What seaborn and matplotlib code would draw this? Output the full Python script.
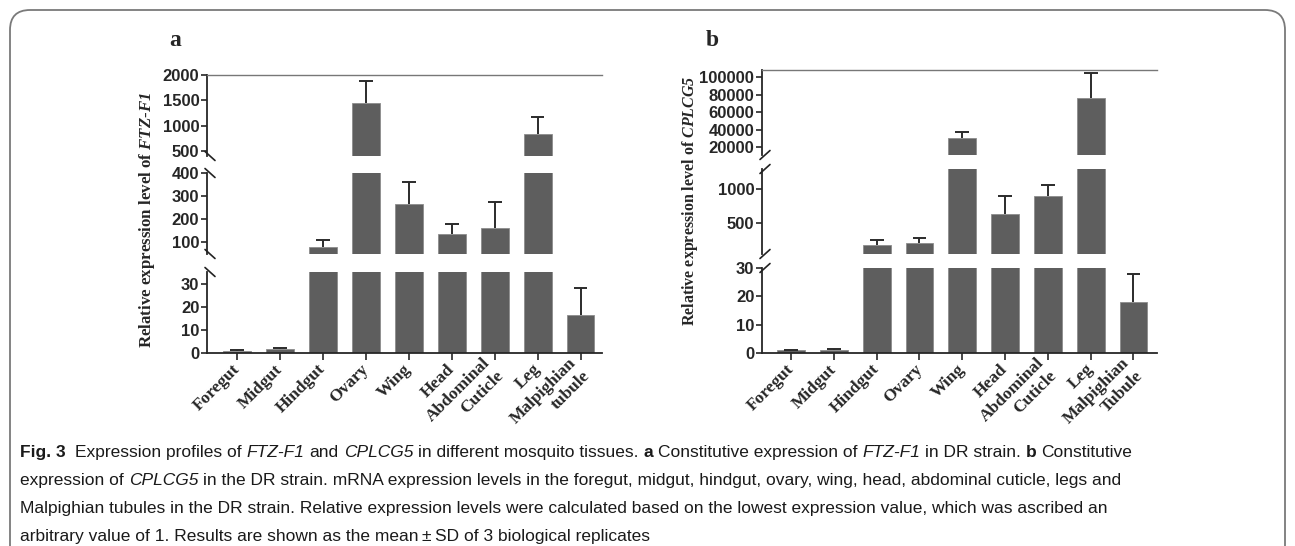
import matplotlib
matplotlib.use("Agg")
import matplotlib.pyplot as plt
import pandas as pd
import seaborn as sns
from matplotlib.lines import Line2D
from matplotlib.patches import FancyBboxPatch

# data
tissues_a = ["Foregut", "Midgut", "Hindgut", "Ovary", "Wing", "Head",
             "Abdominal\nCuticle", "Leg", "Malpighian\ntubule"]
tissues_b = ["Foregut", "Midgut", "Hindgut", "Ovary", "Wing", "Head",
             "Abdominal\nCuticle", "Leg", "Malpighian\nTubule"]
ftz_f1_mean = [1.0, 1.8, 80, 1450, 265, 135, 160, 840, 16.6]
ftz_f1_sd = [0.2, 0.3, 30, 430, 95, 45, 115, 340, 11.4]
cplcg5_mean = [0.9, 0.9, 175, 205, 30500, 630, 900, 76000, 18]
cplcg5_sd = [0.2, 0.5, 75, 75, 7000, 270, 160, 29000, 10]

# broken y axis: segments from top to bottom
limits_a = [(400, 2000), (48, 400), (0, 35)]
ticks_a = [[500, 1000, 1500, 2000], [100, 200, 300, 400], [0, 10, 20, 30]]
limits_b = [(11000, 108000), (44, 1300), (0, 30)]
ticks_b = [[20000, 40000, 60000, 80000, 100000], [500, 1000], [0, 10, 20, 30]]

W, H = 1295, 546
BAR = "#5e5e5e"
ERR = "#2b2b2b"
SERIF = ["Liberation Serif", "DejaVu Serif"]
SANS = ["Liberation Sans", "DejaVu Sans"]

sns.set_style("ticks")
plt.rcParams.update({
    "mathtext.fontset": "custom",
    "mathtext.rm": "Liberation Serif",
    "mathtext.it": "Liberation Serif:italic",
    "mathtext.bf": "Liberation Serif:bold",
    "mathtext.bfit": "Liberation Serif:italic:bold",
})

fig = plt.figure(figsize=(W / 100, H / 100), dpi=100)


def px_axes(x0, y0, x1, y1):
    return fig.add_axes([x0 / W, 1 - y1 / H, (x1 - x0) / W, (y1 - y0) / H])


def px_line(x0, y0, x1, y1, **kw):
    fig.add_artist(Line2D([x0 / W, x1 / W], [1 - y0 / H, 1 - y1 / H],
                          transform=fig.transFigure, **kw))


def draw_panel(x0, x1, rows, xlim, names, means, sds, limits, ticks, slash):
    df = pd.DataFrame({"tissue": names, "mean": means})
    n = len(means)
    pos = list(range(n))
    tops = [m + s for m, s in zip(means, sds)]
    for i, ((y0, y1), lim, tk) in enumerate(zip(rows, limits, ticks)):
        ax = px_axes(x0, y0, x1, y1)
        ax.set_facecolor("none")
        sns.barplot(data=df, x="tissue", y="mean", color=BAR, saturation=1,
                    width=0.65, errorbar=None, edgecolor="#8c8c8c",
                    linewidth=0.6, ax=ax)
        # upper-only SD bars
        ax.vlines(pos, means, tops, color=ERR, lw=1.4, zorder=3)
        ax.hlines(tops, [p - 0.16 for p in pos], [p + 0.16 for p in pos],
                  color=ERR, lw=1.4, zorder=3)
        ax.set_xlim(*xlim)
        ax.set_ylim(*lim)
        ax.set_yticks(tk)
        ax.set_yticklabels([str(t) for t in tk], fontfamily=SANS,
                           fontweight="bold", fontsize=12)
        ax.set_xlabel("")
        ax.set_ylabel("")
        ax.spines["right"].set_visible(False)
        ax.spines["left"].set_linewidth(1.3)
        ax.tick_params(axis="y", length=4, width=1.2, pad=1.5)
        if i == 0:
            ax.spines["top"].set_color("#777777")
            ax.spines["top"].set_linewidth(1.0)
        else:
            ax.spines["top"].set_visible(False)
        if i == len(rows) - 1:
            ax.spines["bottom"].set_linewidth(1.3)
            ax.set_xticks(pos)
            ax.set_xticklabels(names, rotation=45, ha="right", va="center",
                               rotation_mode="anchor", multialignment="right",
                               fontfamily=SERIF, fontweight="bold",
                               fontsize=12.5)
            ax.tick_params(axis="x", length=5, width=1.2, pad=5)
        else:
            ax.spines["bottom"].set_visible(False)
            ax.tick_params(axis="x", bottom=False, labelbottom=False)
    # break marks on the y axis
    cx = x0 + 3
    for (ya, yb) in zip([r[1] for r in rows[:-1]], [r[0] for r in rows[1:]]):
        for y in (ya, yb):
            if slash == "\\":
                px_line(cx - 5, y - 4.5, cx + 5, y + 4.5, color="#222", lw=1.2)
            else:
                px_line(cx - 5, y + 4.5, cx + 5, y - 4.5, color="#222", lw=1.2)


draw_panel(207, 602, [(75, 156), (173, 254), (272, 353)], (-0.7, 8.5),
           tissues_a, ftz_f1_mean, ftz_f1_sd, limits_a, ticks_a, "\\")
draw_panel(762, 1157, [(70, 155), (169, 254), (268, 353)], (-0.68, 8.55),
           tissues_b, cplcg5_mean, cplcg5_sd, limits_b, ticks_b, "/")

fig.text(147 / W, 1 - 220 / H,
         r"Relative expression level of $\mathbfit{FTZ}$-$\mathbfit{F1}$",
         rotation=90, ha="center", va="center", fontfamily=SERIF,
         fontweight="bold", fontsize=12.2)
fig.text(690 / W, 1 - 201 / H,
         r"Relative expression level of $\mathbfit{CPLCG5}$",
         rotation=90, ha="center", va="center", fontfamily=SERIF,
         fontweight="bold", fontsize=11.5)
fig.text(175 / W, 1 - 40 / H, "a", ha="center", va="center",
         fontfamily=SERIF, fontweight="bold", fontsize=17)
fig.text(712 / W, 1 - 40 / H, "b", ha="center", va="center",
         fontfamily=SERIF, fontweight="bold", fontsize=17)

# rounded frame round the figure (bottom runs off the page)
fig.add_artist(FancyBboxPatch((0.10, -1.0), 12.75, (H - 10) / 100 + 1.0,
                              boxstyle="round,pad=0,rounding_size=0.2",
                              transform=fig.dpi_scale_trans,
                              facecolor="none", edgecolor="#7a7a7a", lw=1.3))

# caption with mixed styles
caption = [
    [("Fig. 3", "b"), ("  Expression profiles of ", "r"), ("FTZ-F1", "i"),
     (" and ", "r"), ("CPLCG5", "i"), (" in different mosquito tissues. ", "r"),
     ("a", "b"), (" Constitutive expression of ", "r"), ("FTZ-F1", "i"),
     (" in DR strain. ", "r"), ("b", "b"), (" Constitutive", "r")],
    [("expression of ", "r"), ("CPLCG5", "i"),
     (" in the DR strain. mRNA expression levels in the foregut, midgut, "
      "hindgut, ovary, wing, head, abdominal cuticle, legs and", "r")],
    [("Malpighian tubules in the DR strain. Relative expression levels were "
      "calculated based on the lowest expression value, which was ascribed an",
      "r")],
    [("arbitrary value of 1. Results are shown as the mean\u2009\u00b1\u2009SD "
      "of 3 biological replicates", "r")],
]
baselines = [457, 485, 513, 541]
STYLE = {"r": dict(fontweight="normal", fontstyle="normal"),
         "i": dict(fontweight="normal", fontstyle="italic"),
         "b": dict(fontweight="bold", fontstyle="normal")}
renderer = fig.canvas.get_renderer()


def text_w(s, size, **kw):
    t = fig.text(0, 0, s, fontsize=size, fontfamily=SANS, **kw)
    w = t.get_window_extent(renderer).width
    t.remove()
    return w


def draw_rich(parts, y, size):
    space = text_w("a a", size) - text_w("aa", size)
    x = 20.0
    for s, st in parts:
        lead = len(s) - len(s.lstrip(" "))
        trail = len(s) - len(s.rstrip(" "))
        x += lead * space
        body = s.strip(" ")
        t = fig.text(x / W, 1 - y / H, body, fontsize=size, fontfamily=SANS,
                     va="baseline", ha="left", color="#1a1a1a", **STYLE[st])
        x += t.get_window_extent(renderer).width + trail * space
    return x


trial = 12.0
width = sum(text_w(s, trial, **STYLE[st]) for s, st in caption[0]) + \
    (text_w("a a", trial) - text_w("aa", trial)) * 22
size = trial * 1212 / width
for parts, y in zip(caption, baselines):
    draw_rich(parts, y, size)

fig.savefig("out.png", dpi=100)
